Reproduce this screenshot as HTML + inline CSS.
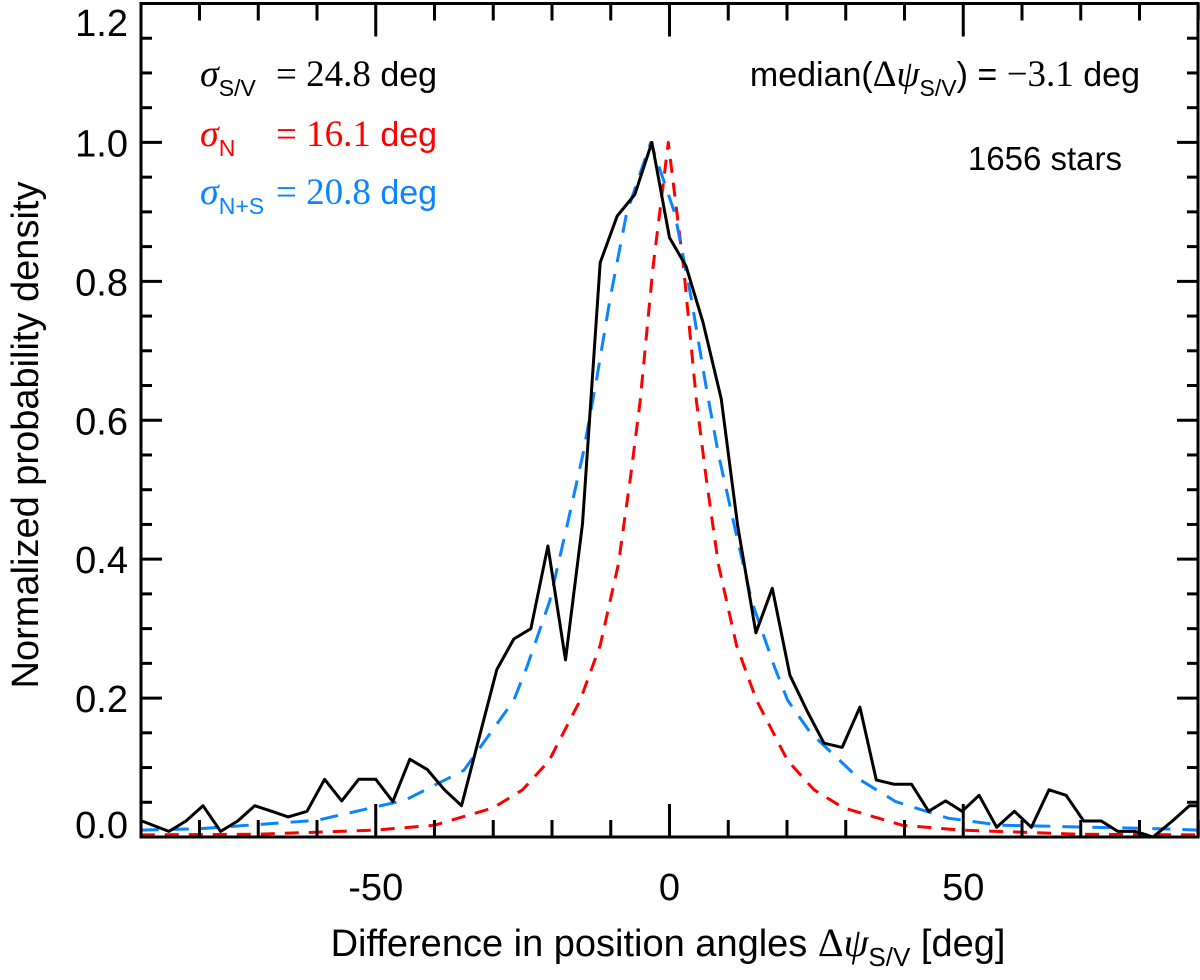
<!DOCTYPE html>
<html><head><meta charset="utf-8"><style>
body{margin:0;background:#fff;}
svg{display:block;font-family:"Liberation Sans",sans-serif;}
.ser{font-family:"Liberation Serif",serif;}
</style></head><body>
<svg id="chart" width="1200" height="980" viewBox="0 0 1200 980">
<g id="marks"></g>
<g id="axes"></g>
<text x="200" y="86" font-size="34"><tspan class="ser" font-style="italic" font-size="38">σ</tspan><tspan font-size="23" dy="10">S/V</tspan><tspan dy="-10" class="ser" x="276" font-size="37">= 24.8</tspan> deg</text>
<text x="200" y="146" font-size="34" fill="#ff0000"><tspan class="ser" font-style="italic" font-size="38">σ</tspan><tspan font-size="23" dy="10">N</tspan><tspan dy="-10" class="ser" x="276" font-size="37">= 16.1</tspan> deg</text>
<text x="200" y="204" font-size="34" fill="#0a84ff"><tspan class="ser" font-style="italic" font-size="38">σ</tspan><tspan font-size="23" dy="10">N+S</tspan><tspan dy="-10" class="ser" x="276" font-size="37">= 20.8</tspan> deg</text>
<text x="1140" y="86" font-size="34" text-anchor="end">median(<tspan class="ser" font-size="37">Δ</tspan><tspan class="ser" font-style="italic" font-size="37">ψ</tspan><tspan font-size="23" dy="10">S/V</tspan><tspan dy="-10">) = </tspan><tspan class="ser" font-size="37">−3.1</tspan> deg</text>
<text x="1122" y="170" font-size="33" text-anchor="end">1656 stars</text>
<text x="668" y="956" font-size="38" text-anchor="middle">Difference in position angles <tspan class="ser" font-size="40">Δ</tspan><tspan class="ser" font-style="italic" font-size="40">ψ</tspan><tspan font-size="26" dy="10">S/V</tspan><tspan dy="-10"> [deg]</tspan></text>
<text transform="translate(38,435) rotate(-90)" font-size="38" text-anchor="middle">Normalized probability density</text>
</svg>
<script>
const binX=[-89.8,-85.2,-82.3,-79.4,-76.4,-73.5,-70.6,-67.7,-64.9,-61.7,-58.7,-55.8,-52.9,-50,-47.1,-44.2,-41.2,-38.3,-35.4,-32.5,-29.4,-26.5,-23.6,-20.7,-17.7,-14.8,-11.8,-8.9,-5.9,-3.0,0.0,2.8,5.7,8.8,11.6,14.7,17.5,20.5,23.5,26.3,29.4,32.4,35.2,38.2,41.2,44.1,47.0,49.8,52.7,55.7,58.7,61.6,64.6,67.5,70.5,73.5,76.3,79.3,82.3,85.6,88.5,90];
const binY=[0.023,0.008,0.023,0.045,0.008,0.023,0.045,0.037,0.029,0.037,0.083,0.052,0.083,0.083,0.051,0.112,0.097,0.068,0.045,0.14,0.241,0.285,0.300,0.419,0.255,0.451,0.827,0.894,0.925,1.0,0.863,0.822,0.741,0.631,0.449,0.294,0.358,0.233,0.18,0.135,0.129,0.187,0.082,0.076,0.076,0.037,0.052,0.037,0.060,0.014,0.037,0.014,0.068,0.060,0.023,0.023,0.008,0.008,0.0,0.023,0.045,0.045];
const redX=[-90,-70,-50,-40,-30,-25,-20.5,-15.2,-11.8,-8.7,-6.6,-5.0,-2.8,-0.2,2.4,4.6,6.2,8.3,11.4,14.8,20.1,24.6,29.6,39.6,49.6,69.6,90];
const redY=[0.003,0.004,0.01,0.017,0.042,0.068,0.11,0.197,0.276,0.393,0.52,0.627,0.82,1.0,0.82,0.627,0.52,0.393,0.276,0.197,0.11,0.068,0.042,0.017,0.01,0.004,0.003];
const blueX=[-90,-80,-60,-45,-35,-26.5,-24.3,-20.4,-17.5,-14.7,-12.4,-10.1,-7.3,-3.2,0.9,3.7,6.0,8.3,11.1,14.0,17.9,20.1,24.0,32.5,38.5,47.4,56.3,83.2,90];
const blueY=[0.01,0.012,0.024,0.053,0.096,0.197,0.244,0.339,0.446,0.552,0.659,0.776,0.898,1.0,0.898,0.776,0.659,0.552,0.446,0.339,0.244,0.197,0.15,0.082,0.051,0.027,0.017,0.012,0.01];
const xTicks=[-50,0,50];
const yTicks=[0.0,0.2,0.4,0.6,0.8,1.0,1.2];

const L=141,R=1198,T=3.5,B=837;
const xs=v=>669.5+(v)*5.875;
const ys=v=>B-v*(B-T)/1.2;
const NS='http://www.w3.org/2000/svg';
const marks=document.getElementById('marks'),axes=document.getElementById('axes');
function mk(tag,attrs,parent){const e=document.createElementNS(NS,tag);for(const k in attrs)e.setAttribute(k,attrs[k]);parent.appendChild(e);return e;}
const cp=mk('clipPath',{id:'cp'},mk('defs',{},marks));mk('rect',{x:L,y:T,width:R-L,height:B-T},cp);
function line(X,Y,stroke,dash,name){
  const p=mk('polyline',{points:X.map((x,i)=>xs(x).toFixed(1)+','+ys(Y[i]).toFixed(1)).join(' '),fill:'none',stroke:stroke,'stroke-width':3,'stroke-linejoin':'round','clip-path':'url(#cp)'},marks);
  if(dash)p.setAttribute('stroke-dasharray',dash);
  
  
}
line(redX,redY,'#ff0000','14 10','red-model-curve');
line(blueX,blueY,'#0a84ff','18 12','blue-model-curve');
line(binX,binY,'#000','','histogram-line');
const fr=mk('rect',{x:L,y:T,width:R-L,height:B-T,fill:'none',stroke:'#000','stroke-width':3},axes);


for(let v=-80;v<=90;v+=10){
  const x=xs(v),len=(v%50===0)?33:17;
  mk('line',{x1:x,y1:B,x2:x,y2:B-len,stroke:'#000','stroke-width':3},axes);
  mk('line',{x1:x,y1:T,x2:x,y2:T+len,stroke:'#000','stroke-width':3},axes);
}
for(let i=0;i<=24;i++){
  const v=i*0.05,y=ys(v),len=(i%4===0)?21:11;
  mk('line',{x1:L,y1:y,x2:L+len,y2:y,stroke:'#000','stroke-width':3},axes);
  mk('line',{x1:R,y1:y,x2:R-len,y2:y,stroke:'#000','stroke-width':3},axes);
}
xTicks.forEach(v=>{
  const t=mk('text',{x:xs(v),y:900,'font-size':38,'text-anchor':'middle'},axes);t.textContent=String(v);
  
  
});
yTicks.forEach(v=>{
  let y=ys(v)+14; if(v===0)y=838; if(v===1.2)y=36;
  const t=mk('text',{x:128,y:y,'font-size':38,'text-anchor':'end'},axes);t.textContent=v.toFixed(1);
  
  
});
</script>
</body></html>
